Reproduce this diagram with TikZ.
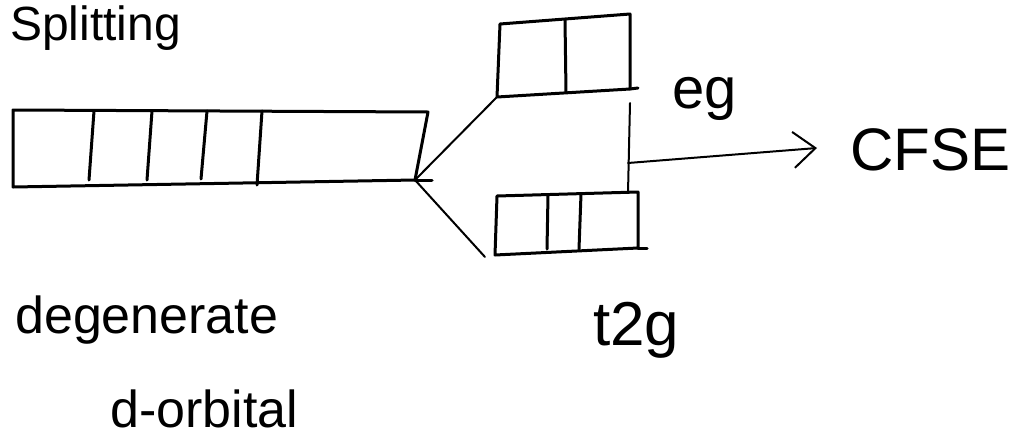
\documentclass[tikz,border=0pt]{standalone}
\usepackage{fontspec}
\setmainfont{Liberation Sans}
\usetikzlibrary{arrows.meta}
\begin{document}
\begin{tikzpicture}[x=1pt,y=-1pt,
  ink/.style={line width=3pt,line cap=round,line join=round},
  thin ink/.style={line width=2pt,line cap=round,line join=round},
  hand/.style={inner sep=0pt,anchor=base west}]
\useasboundingbox (0,0) rectangle (1016,442);
\fill[white] (0,0) rectangle (1016,442);

% degenerate d level
\coordinate (dTL) at (13,110);
\coordinate (dTR) at (428,112);
\coordinate (dBR) at (415,180);
\coordinate (dBL) at (13,187);
\draw[ink] (dTL) -- (dTR) -- (dBR) -- (dBL) -- cycle;
\draw[ink] (94,111) -- (89,180) (152,111) -- (147,180) (207,111) -- (201,179) (262,111) -- (257,185);

% eg level
\coordinate (eTL) at (500,24);
\coordinate (eTR) at (630,14);
\coordinate (eBR) at (630,89);
\coordinate (eBL) at (497,97);
\draw[ink] (eTL) -- (eTR) -- (eBR) -- (eBL) -- cycle;
\draw[ink] (565,20) -- (566,92);
\draw[ink] (eBR) -- (638,88);

% t2g level
\coordinate (tTL) at (497,196);
\coordinate (tTR) at (638,192);
\coordinate (tBR) at (638,248);
\coordinate (tBL) at (495,255);
\draw[ink] (tTL) -- (tTR) -- (tBR) -- (tBL) -- cycle;
\draw[ink] (548,195) -- (547,249) (581,194) -- (579,249);
\draw[ink] (tBR) -- (647,248);

% splitting lines
\draw[thin ink] (dBR) -- (eBL);
\draw[thin ink] (dBR) -- (485,257);
\draw[ink] (dBR) -- (432,180);

% energy gap and CFSE arrow
\coordinate (gapTop) at (630,103);
\coordinate (gapBot) at (628,193);
\coordinate (gapMid) at (628,163);
\draw[thin ink] (gapTop) -- (gapBot);
\node[hand] (cfse) at (850,170) {\fontsize{60}{70}\selectfont CFSE};
\draw[thin ink,-{Straight Barb[length=22pt,width=36pt,line width=2pt]}] (gapMid) -- (817,148);

% labels
\node[hand] (split) at (10,40) {\fontsize{48}{58}\selectfont Splitting};
\node[hand] (eg) at (672,108) {\fontsize{58}{68}\selectfont eg};
\node[hand] (t2g) at (593,345) {\fontsize{62}{72}\selectfont t2g};
\node[hand] (deg) at (15,333) {\fontsize{52}{62}\selectfont degenerate};
\node[hand] (dorb) at (110,427) {\fontsize{52}{62}\selectfont d-orbital};
\end{tikzpicture}
\end{document}
